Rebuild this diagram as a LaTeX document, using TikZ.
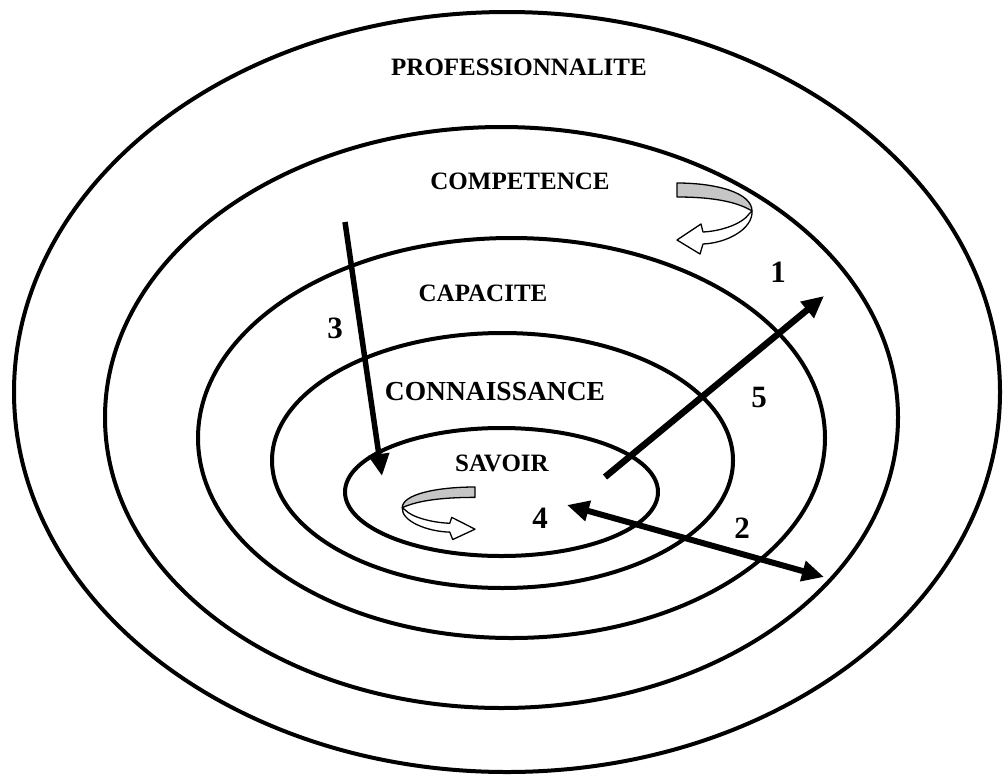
\documentclass[tikz,border=0pt]{standalone}
\usepackage{fontspec}
\setmainfont{Liberation Serif}
\usetikzlibrary{arrows.meta}
\begin{document}
\begin{tikzpicture}[x=1pt,y=-1pt,
  ring/.style={line width=4pt},
  lbl/.style={font=\bfseries\fontsize{25}{28}\selectfont, inner sep=0pt},
  num/.style={font=\bfseries\fontsize{31}{34}\selectfont, inner sep=0pt},
  bigarrow/.style={line width=6pt,-{Triangle[length=22pt,width=20pt]}},
  ribbon/.style={draw=black, line width=1.3pt, line join=round}
]
\useasboundingbox (0,0) rectangle (1003,774);
% rings
\draw[ring] (507,392) ellipse [x radius=493, y radius=380];
\draw[ring] (501.5,417.5) ellipse [x radius=396.5, y radius=290.5];
\draw[ring] (511.5,438) ellipse [x radius=313.5, y radius=200];
\draw[ring] (502.5,460.5) ellipse [x radius=230.5, y radius=127.5];
\draw[ring] (501.5,492) ellipse [x radius=156.5, y radius=64];
% labels
\node[lbl] (prof) at (519,67) {PROFESSIONNALITE};
\node[lbl] (comp) at (520,181) {COMPETENCE};
\node[lbl] (capa) at (483,293) {CAPACITE};
\node[lbl, font=\bfseries\fontsize{27.5}{30}\selectfont] (conn) at (495,392) {CONNAISSANCE};
\node[lbl] (sav) at (502,463) {SAVOIR};
% numbers
\node[num] (n1) at (778,272) {1};
\node[num] (n2) at (742,528) {2};
\node[num] (n3) at (335,328) {3};
\node[num] (n4) at (540,518) {4};
\node[num] (n5) at (759,397) {5};
% arrow endpoints
\coordinate (a3s) at (345,222);
\coordinate (a3e) at (382,476);
\coordinate (a1s) at (605,477);
\coordinate (a1e) at (824,296);
\coordinate (a2s) at (567,505);
\coordinate (a2e) at (824,577);
\draw[line width=5.5pt,-{Triangle[length=22pt,width=20pt]}] (a3s) -- (a3e);
\draw[bigarrow, line width=6.5pt] (a1s) -- (a1e);
\draw[line width=6pt,{Triangle[length=22pt,width=20pt]}-{Triangle[length=22pt,width=20pt]}] (a2s) -- (a2e);
% ribbon arrow near COMPETENCE
\begin{scope}[shift={(677,183)}]
  \filldraw[ribbon, fill=gray!45] (0,0) .. controls (40,0) and (75,10) .. (75,28)
     .. controls (62,20) and (40,14) .. (0,14) -- cycle;
  \filldraw[ribbon, fill=white] (75,28) .. controls (76,46) and (50,60) .. (26,61)
     -- (23,71) -- (0,57) -- (24,41) -- (26,49)
     .. controls (46,48) and (66,40) .. (72,31) -- cycle;
\end{scope}
% ribbon arrow inside SAVOIR
\begin{scope}[shift={(475,487)}, xscale=-0.97, yscale=0.74]
  \filldraw[ribbon, fill=gray!45] (0,0) .. controls (40,0) and (75,10) .. (75,28)
     .. controls (62,20) and (40,14) .. (0,14) -- cycle;
  \filldraw[ribbon, fill=white] (75,28) .. controls (76,46) and (50,60) .. (26,61)
     -- (23,71) -- (0,57) -- (24,41) -- (26,49)
     .. controls (46,48) and (66,40) .. (72,31) -- cycle;
\end{scope}
\end{tikzpicture}
\end{document}
